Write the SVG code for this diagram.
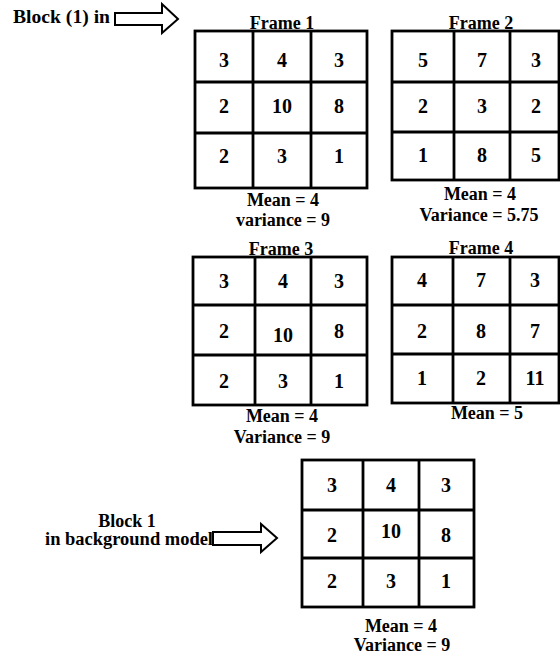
<svg xmlns="http://www.w3.org/2000/svg" width="560" height="657" viewBox="0 0 560 657">
<style>
  text { font-family: "Liberation Serif", "Times New Roman", serif; fill: #000; font-weight: bold; }
  .lbl { font-size: 18px; text-anchor: middle; }
  .lft { font-size: 18px; }
  .dg { font-size: 20px; text-anchor: middle; }
  .grid { fill: #fff; stroke: #000; stroke-width: 2.8; }
  .ln { stroke: #000; stroke-width: 2.8; fill: none; }
  .arrow { fill: #fff; stroke: #000; stroke-width: 2; stroke-linejoin: miter; }
</style>
<rect width="560" height="657" fill="#fff"/>

<g id="input-label">
  <text class="lft" x="13" y="23" textLength="97" lengthAdjust="spacingAndGlyphs">Block (1) in</text>
</g>

<g id="frame1">
  <text class="lbl" x="282" y="29">Frame 1</text>
  <rect class="grid" x="195" y="31" width="172" height="157"/>
  <path class="ln" d="M253 31V188M311 31V188M195 82H367M195 133H367"/>
  <text class="dg" x="224" y="67">3</text><text class="dg" x="282" y="67">4</text><text class="dg" x="339" y="67">3</text>
  <text class="dg" x="224" y="113">2</text><text class="dg" x="282" y="113">10</text><text class="dg" x="339" y="113">8</text>
  <text class="dg" x="224" y="163">2</text><text class="dg" x="282" y="163">3</text><text class="dg" x="339" y="163">1</text>
  <text class="lbl" x="283" y="206">Mean = 4</text>
  <text class="lbl" x="283" y="226">variance = 9</text>
</g>

<g id="frame2">
  <text class="lbl" x="481" y="29">Frame 2</text>
  <rect class="grid" x="392" y="31" width="167" height="149"/>
  <path class="ln" d="M454 31V180M510 31V180M392 82H559M392 132H559"/>
  <text class="dg" x="423" y="67">5</text><text class="dg" x="482" y="67">7</text><text class="dg" x="536" y="67">3</text>
  <text class="dg" x="423" y="113">2</text><text class="dg" x="482" y="113">3</text><text class="dg" x="536" y="113">2</text>
  <text class="dg" x="423" y="162">1</text><text class="dg" x="482" y="162">8</text><text class="dg" x="536" y="162">5</text>
  <text class="lbl" x="480" y="200">Mean = 4</text>
  <text class="lbl" x="479" y="221">Variance = 5.75</text>
</g>

<g id="frame3">
  <text class="lbl" x="281" y="255">Frame 3</text>
  <rect class="grid" x="193" y="257" width="174" height="148"/>
  <path class="ln" d="M255 257V405M311 257V405M193 305H367M193 355H367"/>
  <text class="dg" x="224" y="288">3</text><text class="dg" x="283" y="288">4</text><text class="dg" x="339" y="288">3</text>
  <text class="dg" x="224" y="338">2</text><text class="dg" x="283" y="342">10</text><text class="dg" x="339" y="338">8</text>
  <text class="dg" x="224" y="388">2</text><text class="dg" x="283" y="388">3</text><text class="dg" x="339" y="388">1</text>
  <text class="lbl" x="282" y="422">Mean = 4</text>
  <text class="lbl" x="282" y="443">Variance = 9</text>
</g>

<g id="frame4">
  <text class="lbl" x="481" y="254">Frame 4</text>
  <rect class="grid" x="392" y="257" width="167" height="146"/>
  <path class="ln" d="M453 257V403M510 257V403M392 305H559M392 354H559"/>
  <text class="dg" x="422" y="287">4</text><text class="dg" x="481" y="287">7</text><text class="dg" x="535" y="287">3</text>
  <text class="dg" x="422" y="338">2</text><text class="dg" x="481" y="338">8</text><text class="dg" x="535" y="338">7</text>
  <text class="dg" x="422" y="385">1</text><text class="dg" x="481" y="385">2</text><text class="dg" x="535" y="385">11</text>
  <text class="lbl" x="487" y="419">Mean = 5</text>
</g>

<g id="background-label">
  <text class="lbl" x="127" y="527">Block 1</text>
  <text class="lft" x="45" y="545" textLength="168" lengthAdjust="spacingAndGlyphs">in background model</text>
</g>

<g id="background-block">
  <rect class="grid" x="302" y="460" width="172" height="147"/>
  <path class="ln" d="M363 460V607M419 460V607M302 510H474M302 558H474"/>
  <text class="dg" x="332" y="492">3</text><text class="dg" x="391" y="492">4</text><text class="dg" x="446" y="492">3</text>
  <text class="dg" x="332" y="542">2</text><text class="dg" x="391" y="538">10</text><text class="dg" x="446" y="542">8</text>
  <text class="dg" x="332" y="588">2</text><text class="dg" x="391" y="588">3</text><text class="dg" x="446" y="588">1</text>
  <text class="lbl" x="401" y="632">Mean = 4</text>
  <text class="lbl" x="402" y="651">Variance = 9</text>
</g>

<g id="connectors">
  <polygon class="arrow" points="115,13 162,13 162,4 178,19 162,33 162,25 115,25"/>
  <polygon class="arrow" points="213,532 261,532 261,524 277,538 261,552 261,545 213,545"/>
</g>
</svg>
